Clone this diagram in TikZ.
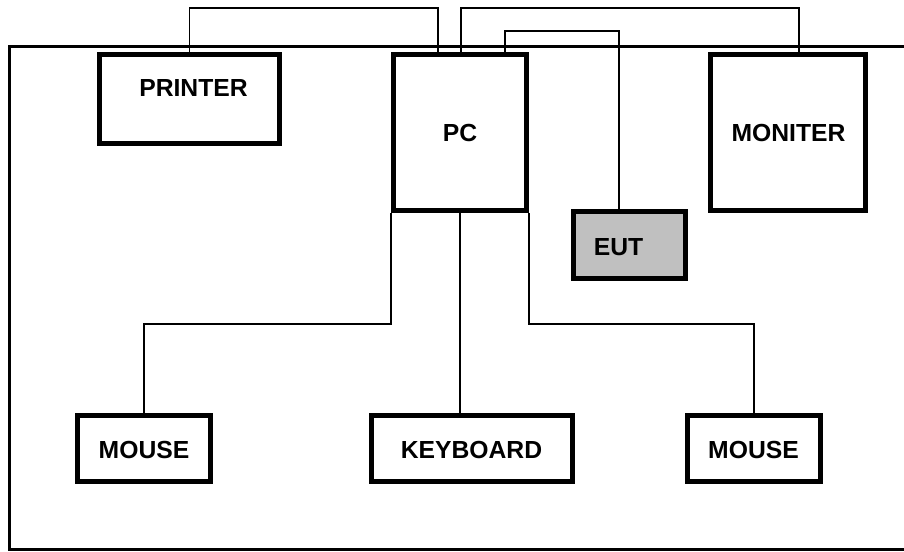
\documentclass[tikz,border=0pt]{standalone}
\usepackage{fontspec}
\setmainfont{Liberation Sans}
\definecolor{eutgray}{RGB}{192,192,192}
\begin{document}
\begin{tikzpicture}[x=1pt,y=-1pt,
  devbox/.style={draw, line width=5pt, inner sep=0pt, minimum width=#1},
  lbl/.style={inner sep=0pt, font=\fontsize{24.7pt}{28pt}\selectfont\bfseries},
  wire/.style={line width=1.2pt},
  frame/.style={line width=3pt}]
\useasboundingbox (0,0) rectangle (904,551);
\begin{scope}
\clip (0,0) rectangle (904,551);
\draw[frame] (9,47) rectangle (930,549);
\end{scope}
% helper coordinates
\coordinate (yA) at (0,8);
\coordinate (yB) at (0,31);
\coordinate (yC) at (0,324);
% boxes
\node[devbox=180pt, minimum height=89pt] (printer) at (189.5,99) {};
\node[devbox=133pt, minimum height=156pt] (pc) at (460,132.5) {};
\node[devbox=155pt, minimum height=156pt] (moniter) at (788,132.5) {};
\node[devbox=112pt, minimum height=67pt, fill=eutgray] (eut) at (629.5,245) {};
\node[devbox=133pt, minimum height=66pt] (mouse1) at (144,448.5) {};
\node[devbox=201pt, minimum height=66pt] (keyboard) at (472,448.5) {};
\node[devbox=133pt, minimum height=66pt] (mouse2) at (754,448.5) {};
% labels
\node[lbl] (printerT) at (193.5,88) {PRINTER};
\node[lbl] (pcT) at (460,133) {PC};
\node[lbl] (moniterT) at (788.5,133) {MONITER};
\node[lbl] (eutT) at (618.5,247) {EUT};
\node[lbl] (mouse1T) at (144,450) {MOUSE};
\node[lbl] (keyboardT) at (471.5,450) {KEYBOARD};
\node[lbl] (mouse2T) at (753.5,450) {MOUSE};
% connector end points on the boxes
\coordinate (pcA) at ([xshift=-22pt]pc.north);
\coordinate (pcB) at ([xshift=1pt]pc.north);
\coordinate (pcC) at ([xshift=45pt]pc.north);
\coordinate (monA) at ([xshift=11pt]moniter.north);
\coordinate (eutA) at ([xshift=-10.5pt]eut.north);
% connectors
\draw[wire] (printer.north) -- (printer.north |- yA) -- (pcA |- yA) -- (pcA);
\draw[wire] (pcB) -- (pcB |- yA) -- (monA |- yA) -- (monA);
\draw[wire] (pcC) -- (pcC |- yB) -- (eutA |- yB) -- (eutA);
\draw[wire] (pc.south west) -- (pc.south west |- yC) -- (mouse1.north |- yC) -- (mouse1.north);
\draw[wire] (pc.south) -- (pc.south |- keyboard.north);
\draw[wire] (pc.south east) -- (pc.south east |- yC) -- (mouse2.north |- yC) -- (mouse2.north);
\end{tikzpicture}
\end{document}
